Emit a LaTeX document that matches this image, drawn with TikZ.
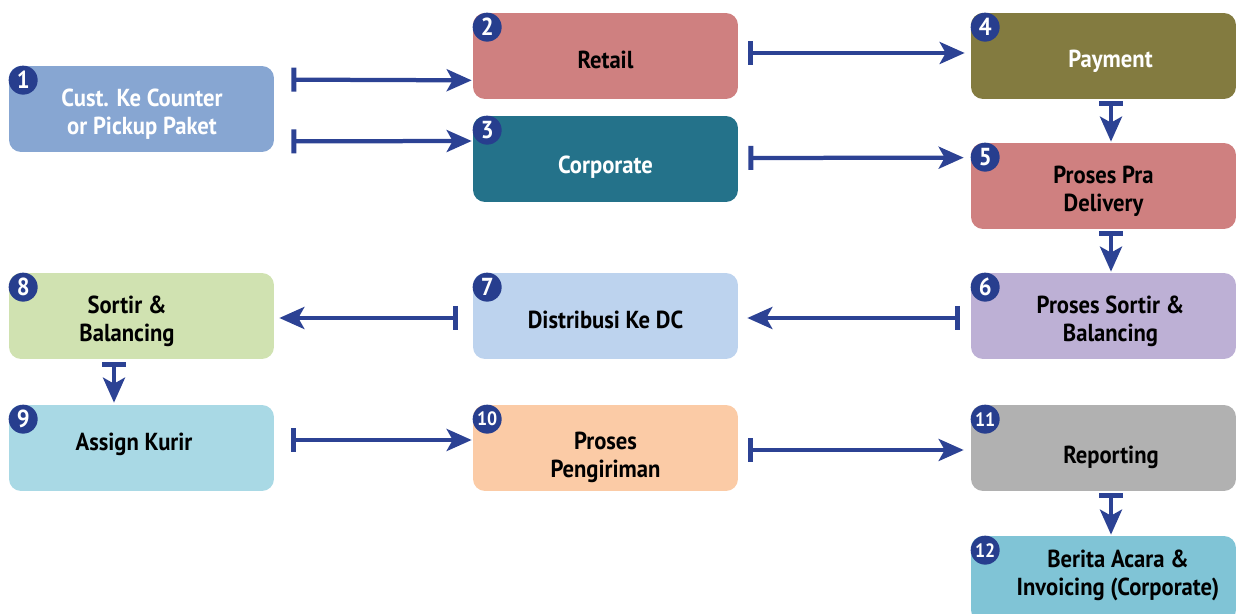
\documentclass[tikz,border=0pt]{standalone}
\usepackage{fontspec}
\setmainfont{PT Sans}[FakeStretch=0.92]
\usetikzlibrary{arrows.meta,calc}

\definecolor{flowblue}{HTML}{2C4294}
\definecolor{badgeblue}{HTML}{273E8E}
\definecolor{custblue}{HTML}{87A6D2}
\definecolor{rosered}{HTML}{CF8080}
\definecolor{tealdark}{HTML}{24728A}
\definecolor{olive}{HTML}{837B40}
\definecolor{lavender}{HTML}{BDB0D5}
\definecolor{skyblue}{HTML}{BDD3EE}
\definecolor{palegreen}{HTML}{D0E2B1}
\definecolor{paleaqua}{HTML}{A9D9E5}
\definecolor{peach}{HTML}{FBCBA6}
\definecolor{midgray}{HTML}{B1B1B1}
\definecolor{aqua}{HTML}{80C4D6}

\begin{document}
\begin{tikzpicture}[x=0.02cm, y=-0.02cm,
    stage/.style={rounded corners=0.24cm, minimum width=5.3cm, minimum height=1.72cm, inner sep=0pt},
    stagetext/.style={inner sep=0pt, align=center, font=\fontsize{14}{16}\selectfont\bfseries},
    badge/.style={circle, fill=badgeblue, text=white, minimum size=0.58cm, inner sep=0pt,
      font=\fontsize{14}{14}\selectfont\bfseries},
    smallbadge/.style={badge, font=\fontsize{11}{11}\selectfont\bfseries},
    flow/.style={draw=flowblue, line width=0.085cm,
      {Bar[width=0.48cm, line width=0.1cm]}-{Stealth[length=0.5cm, width=0.44cm, inset=0.12cm]}}]
    \useasboundingbox (0,0) rectangle (1238,614);

    % Stages
    \node[stage, fill=custblue] (c1) at (141.5,109) {};
    \node[stage, fill=rosered] (c2) at (605.5,56) {};
    \node[stage, fill=tealdark] (c3) at (605.5,159) {};
    \node[stage, fill=olive] (c4) at (1103.5,56) {};
    \node[stage, fill=rosered] (c5) at (1103.5,186) {};
    \node[stage, fill=lavender] (c6) at (1103.5,316) {};
    \node[stage, fill=skyblue] (c7) at (605.5,316) {};
    \node[stage, fill=palegreen] (c8) at (141.5,316) {};
    \node[stage, fill=paleaqua] (c9) at (141.5,448) {};
    \node[stage, fill=peach] (c10) at (605.5,448) {};
    \node[stage, fill=midgray] (c11) at (1103.5,448) {};
    \node[stage, fill=aqua] (c12) at (1103.5,579) {};

    % Stage texts
    \node[stagetext, text=white] (t1) at ($(c1)+(0.5,5)$) {Cust. Ke Counter\\or Pickup Paket};
    \node[stagetext] (t2) at ($(c2)+(0,4)$) {Retail};
    \node[stagetext, text=white] (t3) at ($(c3)+(0,8)$) {Corporate};
    \node[stagetext, text=white] (t4) at ($(c4)+(7,5)$) {Payment};
    \node[stagetext] (t5) at ($(c5)+(0,5)$) {Proses Pra\\Delivery};
    \node[stagetext] (t6) at ($(c6)+(7,5)$) {Proses Sortir \&\\Balancing};
    \node[stagetext] (t7) at ($(c7)+(0,4)$) {Distribusi Ke DC};
    \node[stagetext] (t8) at ($(c8)+(-14.5,5)$) {Sortir \&\\Balancing};
    \node[stagetext] (t9) at ($(c9)+(-7.5,-4)$) {Assign Kurir};
    \node[stagetext] (t10) at ($(c10)+(0,9)$) {Proses\\Pengiriman};
    \node[stagetext] (t11) at ($(c11)+(7.5,9)$) {Reporting};
    \node[stagetext] (t12) at ($(c12)+(14.5,-4)$) {Berita Acara \&\\Invoicing (Corporate)};

    % Step numbers
    \foreach \n in {1,...,9}
    \node[badge] (b\n) at ($(c\n.north west)+(14.5,14.5)$) {\n};
    \foreach \n in {10,11,12}
    \node[smallbadge] (b\n) at ($(c\n.north west)+(14.5,14.5)$) {\n};

    % Flow
    \draw[flow] ($(c1.north east)+(17,14)$) -- ($(c2.south west)+(-1,-19)$);
    \draw[flow] ($(c1.south east)+(17,-11)$) -- ($(c3.west)+(-1,-18)$);
    \draw[flow] ($(c2.east)+(10,-3)$) -- ($(c4.west)+(-6,-3)$);
    \draw[flow] ($(c3.east)+(10,-1)$) -- ($(c5.north west)+(-7,15)$);
    \draw[flow] ($(c4.south)+(7.5,2)$) -- ($(c5.north)+(7.5,-1)$);
    \draw[flow] ($(c5.south)+(7.5,2)$) -- ($(c6.north)+(7.5,-1)$);
    \draw[flow] ($(c6.west)+(-11,2)$) -- ($(c7.east)+(9,2)$);
    \draw[flow] ($(c7.west)+(-15,2)$) -- ($(c8.east)+(5,2)$);
    \draw[flow] ($(c8.south)+(-27.5,3)$) -- ($(c9.north)+(-27.5,-2)$);
    \draw[flow] ($(c9.east)+(17,-8)$) -- ($(c10.west)+(-1,-8)$);
    \draw[flow] ($(c10.east)+(10,2)$) -- ($(c11.west)+(-7,2)$);
    \draw[flow] ($(c11.south)+(7.5,2)$) -- ($(c12.north)+(7.5,-1)$);
\end{tikzpicture}
\end{document}
